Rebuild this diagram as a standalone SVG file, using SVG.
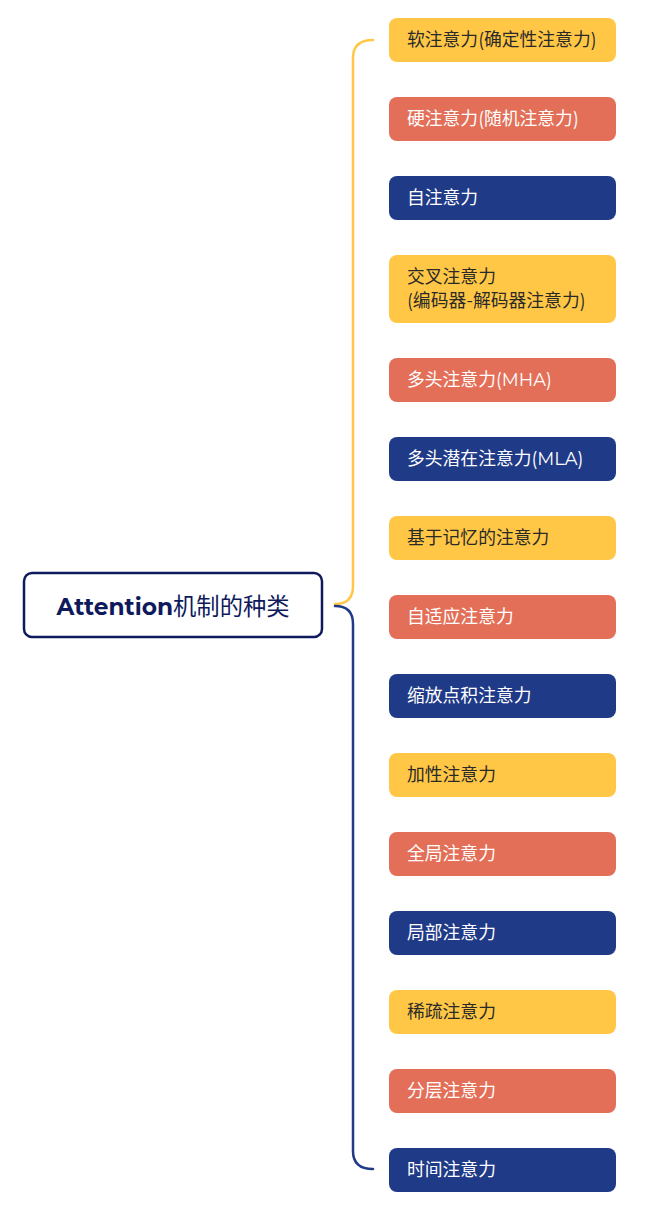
<svg xmlns="http://www.w3.org/2000/svg" width="653" height="1214" viewBox="0 0 653 1214">
<style>
.n rect{rx:8;ry:8}
.y rect{fill:#FFC745}
.r rect{fill:#E36F58}
.b rect{fill:#1F3A87}
.n text{font-family:Montserrat,"Noto Sans CJK SC","Noto Sans",sans-serif;font-size:17.8px;font-weight:normal}
.y text{fill:#2a2a2a}
.r text,.b text{fill:#ffffff}
.c{fill:none;stroke-width:2.5;stroke-linecap:round}
</style>
<rect width="653" height="1214" fill="#ffffff"/>
<g id="connectors">
<path class="c" stroke="#FFC745" d="M335,604 Q353,604 353,586 L353,58 Q353,40 373,40"/>
<path class="c" stroke="#1F3A87" d="M335,606 Q353,606 353,624 L353,1151 Q353,1169 373,1169"/>
</g>
<g id="root">
<rect x="24" y="573" width="298" height="64" rx="8" ry="8" fill="#ffffff" stroke="#0F1A5C" stroke-width="2.5"/>
<text x="173" y="615" text-anchor="middle" font-family="'Noto Sans CJK SC','Noto Sans',sans-serif" font-size="23.3" fill="#0F1A5C"><tspan font-family="Montserrat,'Noto Sans',sans-serif" font-weight="bold">Attention</tspan>机制的种类</text>
</g>
<g id="n1" class="n y"><rect x="389" y="18" width="227" height="44"/><text x="407" y="46">软注意力(确定性注意力)</text></g>
<g id="n2" class="n r"><rect x="389" y="97" width="227" height="44"/><text x="407" y="125">硬注意力(随机注意力)</text></g>
<g id="n3" class="n b"><rect x="389" y="176" width="227" height="44"/><text x="407" y="204">自注意力</text></g>
<g id="n4" class="n y"><rect x="389" y="255" width="227" height="68"/><text x="407" y="283">交叉注意力</text><text x="407" y="307">(编码器-解码器注意力)</text></g>
<g id="n5" class="n r"><rect x="389" y="358" width="227" height="44"/><text x="407" y="386">多头注意力(MHA)</text></g>
<g id="n6" class="n b"><rect x="389" y="437" width="227" height="44"/><text x="407" y="465">多头潜在注意力(MLA)</text></g>
<g id="n7" class="n y"><rect x="389" y="516" width="227" height="44"/><text x="407" y="544">基于记忆的注意力</text></g>
<g id="n8" class="n r"><rect x="389" y="595" width="227" height="44"/><text x="407" y="623">自适应注意力</text></g>
<g id="n9" class="n b"><rect x="389" y="674" width="227" height="44"/><text x="407" y="702">缩放点积注意力</text></g>
<g id="n10" class="n y"><rect x="389" y="753" width="227" height="44"/><text x="407" y="781">加性注意力</text></g>
<g id="n11" class="n r"><rect x="389" y="832" width="227" height="44"/><text x="407" y="860">全局注意力</text></g>
<g id="n12" class="n b"><rect x="389" y="911" width="227" height="44"/><text x="407" y="939">局部注意力</text></g>
<g id="n13" class="n y"><rect x="389" y="990" width="227" height="44"/><text x="407" y="1018">稀疏注意力</text></g>
<g id="n14" class="n r"><rect x="389" y="1069" width="227" height="44"/><text x="407" y="1097">分层注意力</text></g>
<g id="n15" class="n b"><rect x="389" y="1148" width="227" height="44"/><text x="407" y="1176">时间注意力</text></g>
</svg>
